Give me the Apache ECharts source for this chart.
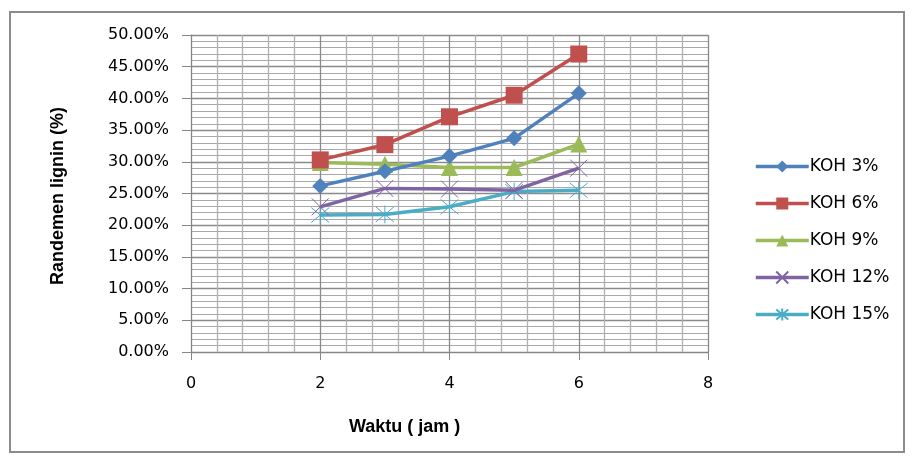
<!DOCTYPE html>
<html><head><meta charset="utf-8">
<script src="https://cdn.jsdelivr.net/npm/echarts@6/dist/echarts.min.js"></script>
<style>html,body{margin:0;padding:0;background:#fff}#c{width:913px;height:459px}</style>
</head><body><div id="c"></div>
<script>
const xValues = [2, 3, 4, 5, 6];
const seriesNames = ['KOH 3%', 'KOH 6%', 'KOH 9%', 'KOH 12%', 'KOH 15%'];
const koh3 = [26.2, 28.5, 30.9, 33.7, 40.8];
const koh6 = [30.3, 32.7, 37.1, 40.5, 47.0];
const koh9 = [29.9, 29.6, 29.1, 29.1, 32.8];
const koh12 = [22.9, 25.8, 25.7, 25.5, 29.0];
const koh15 = [21.6, 21.7, 22.9, 25.3, 25.5];
const xTicks = [0, 2, 4, 6, 8];

const colors = ['#4F81BD', '#C0504D', '#9BBB59', '#8064A2', '#4BACC6'];
const allData = [koh3, koh6, koh9, koh12, koh15];
const symbols = ['diamond', 'rect', 'triangle',
  'path://M0,0L10,10M10,0L0,10',
  'path://M0,0L10,10M10,0L0,10M5,-1L5,11'];
const sizes = [16, 17, 17, 17, 18];

const chart = echarts.init(document.getElementById('c'));
const series = allData.map((d, i) => ({
  name: seriesNames[i],
  type: 'line',
  data: d.map((v, j) => [xValues[j], v]),
  symbol: symbols[i],
  symbolSize: sizes[i],
  color: colors[i],
  lineStyle: { width: 3.5, color: colors[i] },
  itemStyle: i >= 3 ? { color: 'rgba(0,0,0,0)', borderColor: colors[i], borderWidth: 1 } : { color: colors[i] },
  z: 10 - i
}));

chart.setOption({
  animation: false,
  backgroundColor: '#fff',
  grid: { left: 191, right: 205, top: 35, bottom: 107, containLabel: false },
  xAxis: {
    type: 'value', min: xTicks[0], max: xTicks[xTicks.length - 1], interval: 2,
    axisLine: { show: true, onZero: false, lineStyle: { color: '#868686', width: 1 } },
    axisTick: { show: true, length: 8, lineStyle: { color: '#868686' } },
    axisLabel: { margin: 24, fontFamily: 'DejaVu Sans', fontSize: 16, color: '#000' },
    splitLine: { show: true, lineStyle: { color: '#8a8a8a', width: 1.3 } },
    minorTick: { show: false, splitNumber: 5 },
    minorSplitLine: { show: true, lineStyle: { color: '#b0b0b0', width: 1.3 } }
  },
  yAxis: {
    type: 'value', min: 0, max: 50, interval: 5,
    axisLine: { show: true, lineStyle: { color: '#868686', width: 1 } },
    axisTick: { show: true, length: 9, lineStyle: { color: '#868686' } },
    axisLabel: { margin: 22, fontFamily: 'DejaVu Sans', fontSize: 16, color: '#000',
      formatter: v => v.toFixed(2) + '%' },
    splitLine: { show: true, lineStyle: { color: '#8a8a8a', width: 1.3 } },
    minorTick: { show: false, splitNumber: 5 },
    minorSplitLine: { show: true, lineStyle: { color: '#a8a8a8', width: 1 } }
  },
  legend: {
    orient: 'vertical', left: 749, top: 153,
    itemWidth: 53, itemHeight: 15, itemGap: 20,
    lineStyle: { width: 3.5 },
    textStyle: { fontFamily: 'DejaVu Sans', fontSize: 17, color: '#000', padding: [0, 0, 0, -4] },
    data: seriesNames
  },
  graphic: [
    { type: 'rect', shape: { x: 10, y: 12, width: 894, height: 440 },
      style: { fill: 'none', stroke: '#8c8c8c', lineWidth: 2 }, silent: true },
    { type: 'text', left: 349, top: 418,
      style: { text: 'Waktu ( jam )', font: 'bold 18px "Liberation Sans"', fill: '#000' } },
    { type: 'text', x: 49, y: 285, rotation: Math.PI / 2,
      style: { text: 'Randemen lignin (%)', font: 'bold 18px "Liberation Sans"', fill: '#000' } }
  ],
  series: series
});
</script></body></html>
